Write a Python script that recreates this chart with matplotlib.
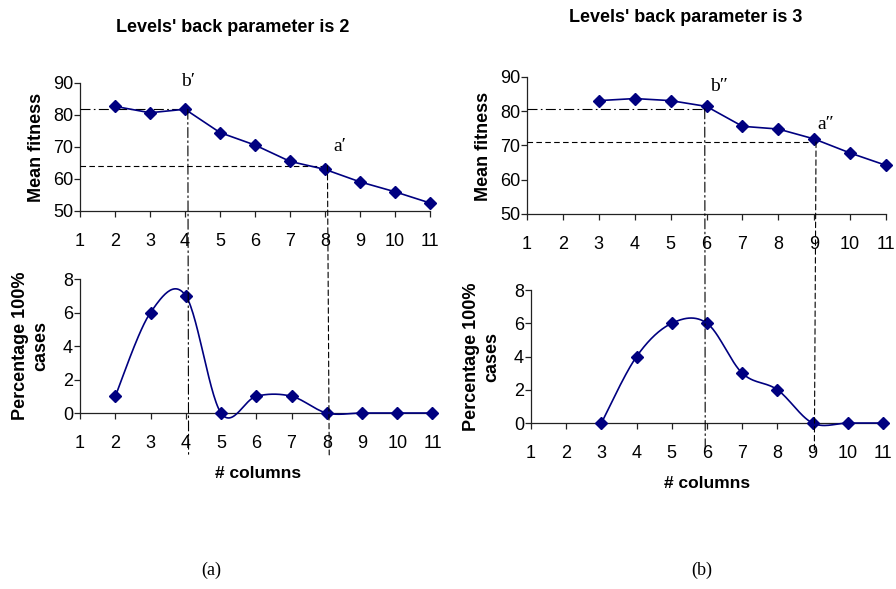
import numpy as np
import matplotlib
matplotlib.use('Agg')
import matplotlib.pyplot as plt
from matplotlib import font_manager
from matplotlib.patches import ConnectionPatch

# data
cols_a = [2, 3, 4, 5, 6, 7, 8, 9, 10, 11]
fit_a = [82.7, 80.7, 81.8, 74.5, 70.6, 65.5, 63.0, 59.1, 56.0, 52.5]
pct_a = [1, 6, 7, 0, 1, 1, 0, 0, 0, 0]

cols_b = [3, 4, 5, 6, 7, 8, 9, 10, 11]
fit_b = [83.1, 83.7, 83.1, 81.4, 75.6, 74.8, 71.9, 67.8, 64.2]
pct_b = [0, 4, 6, 6, 3, 2, 0, 0, 0]

xticks = list(range(1, 12))
# guide points (x, y) for the b and a markers
guide_b_a = (4.08, 81.8)
guide_a_a = (8.07, 64.2)
guide_b_b = (5.95, 80.7)
guide_a_b = (9.05, 71.0)

names = {f.name for f in font_manager.fontManager.ttflist}
narrow = 'Liberation Sans Narrow' if 'Liberation Sans Narrow' in names else 'Liberation Sans'
title_size = 15.5 if narrow == 'Liberation Sans Narrow' else 13
plt.rcParams['font.family'] = ['Liberation Sans', 'DejaVu Sans']

NAVY = '#000080'
DASHDOT = (0, (9, 3, 1.5, 3))
DASHED = (0, (5, 3))


def smooth(x, y, n=30):
    # excel-like smoothed line (catmull-rom bezier)
    x = np.asarray(x, float)
    y = np.asarray(y, float)
    px = np.concatenate([[x[0]], x, [x[-1]]])
    py = np.concatenate([[y[0]], y, [y[-1]]])
    xs, ys = [], []
    t = np.linspace(0, 1, n)
    for i in range(1, len(px) - 2):
        p0 = np.array([px[i], py[i]])
        p3 = np.array([px[i + 1], py[i + 1]])
        c1 = p0 + (np.array([px[i + 1], py[i + 1]]) - np.array([px[i - 1], py[i - 1]])) / 6
        c2 = p3 - (np.array([px[i + 2], py[i + 2]]) - np.array([px[i], py[i]])) / 6
        b = ((1 - t) ** 3)[:, None] * p0 + (3 * (1 - t) ** 2 * t)[:, None] * c1 \
            + (3 * (1 - t) * t ** 2)[:, None] * c2 + (t ** 3)[:, None] * p3
        xs.extend(b[:, 0])
        ys.extend(b[:, 1])
    return xs, ys


def style(ax, ylim, yticks):
    ax.set_xlim(1, 11)
    ax.set_ylim(*ylim)
    ax.set_xticks(xticks)
    ax.set_yticks(yticks)
    for s in ['top', 'right']:
        ax.spines[s].set_visible(False)
    for s in ['left', 'bottom']:
        ax.spines[s].set_linewidth(0.9)
        ax.spines[s].set_color('#222222')
    ax.tick_params(axis='both', direction='out', length=4, width=0.9,
                   color='#222222', labelsize=13)
    ax.tick_params(axis='x', pad=12)
    ax.tick_params(axis='y', pad=1)


fig = plt.figure(figsize=(8.96, 5.89), dpi=100)
ax1 = fig.add_axes([0.0893, 0.6418, 0.3906, 0.2173])
ax2 = fig.add_axes([0.0893, 0.2988, 0.3934, 0.2275])
ax3 = fig.add_axes([0.5882, 0.6367, 0.4007, 0.2326])
ax4 = fig.add_axes([0.5926, 0.2818, 0.3929, 0.2258])

for ax in (ax1, ax3):
    style(ax, (50, 90), [50, 60, 70, 80, 90])
    ax.set_ylabel('Mean fitness', fontsize=13, fontweight='bold')
for ax in (ax2, ax4):
    style(ax, (0, 8), [0, 2, 4, 6, 8])
    ax.set_ylabel('Percentage 100%\ncases', fontsize=13, fontweight='bold',
                  linespacing=1.25)
    ax.set_xlabel('# columns', fontsize=12.5, fontweight='bold')

ax1.yaxis.set_label_coords(-0.1, 0.5)
ax3.yaxis.set_label_coords(-0.097, 0.49)
ax2.yaxis.set_label_coords(-0.086, 0.5)
ax4.yaxis.set_label_coords(-0.088, 0.5)
ax2.xaxis.set_label_coords(0.506, -0.396)
ax4.xaxis.set_label_coords(0.5, -0.396)

# top panels: straight lines
ax1.plot(cols_a, fit_a, color=NAVY, lw=1.2, marker='D', ms=6.5, clip_on=False, zorder=5)
ax3.plot(cols_b, fit_b, color=NAVY, lw=1.2, marker='D', ms=6.5, clip_on=False, zorder=5)

# bottom panels: smoothed lines
sx, sy = smooth(cols_a, pct_a)
ax2.plot(sx, sy, color=NAVY, lw=1.2, clip_on=False, zorder=5)
ax2.plot(cols_a, pct_a, ls='none', color=NAVY, marker='D', ms=6.5, clip_on=False, zorder=6)
sx, sy = smooth(cols_b, pct_b)
ax4.plot(sx, sy, color=NAVY, lw=1.2, clip_on=False, zorder=5)
ax4.plot(cols_b, pct_b, ls='none', color=NAVY, marker='D', ms=6.5, clip_on=False, zorder=6)

# guide lines
for top, bot, (bx, by), (gx, gy), yend in [(ax1, ax2, guide_b_a, guide_a_a, -2.5),
                                           (ax3, ax4, guide_b_b, guide_a_b, -1.7)]:
    top.plot([1, bx], [by, by], color='k', lw=0.8, ls=DASHDOT, clip_on=False, zorder=3)
    top.plot([1, gx], [gy, gy], color='k', lw=0.8, ls=DASHED, clip_on=False, zorder=3)
    for (x0, y0), ls in [((bx, by), DASHDOT), ((gx, gy), DASHED)]:
        con = ConnectionPatch(xyA=(x0, y0), coordsA=top.transData,
                              xyB=(x0, yend), coordsB=bot.transData,
                              color='k', lw=0.8, linestyle=ls, zorder=3)
        fig.add_artist(con)

# point labels
serif = ['Liberation Serif', 'DejaVu Serif']
ax1.text(4.1, 90.5, 'b\u2032', family=serif, fontsize=14, ha='center', va='center')
ax1.text(8.43, 70, 'a\u2032', family=serif, fontsize=14, ha='center', va='center')
ax3.text(6.35, 87.2, 'b\u2033', family=serif, fontsize=14, ha='center', va='center')
ax3.text(9.33, 76, 'a\u2033', family=serif, fontsize=14, ha='center', va='center')

fig.text(233 / 896, 1 - 27 / 589, "Levels' back parameter is 2", family=[narrow, 'DejaVu Sans'],
         fontsize=title_size, fontweight='bold', ha='center', va='center')
fig.text(686 / 896, 1 - 17 / 589, "Levels' back parameter is 3", family=[narrow, 'DejaVu Sans'],
         fontsize=title_size, fontweight='bold', ha='center', va='center')
fig.text(211 / 896, 1 - 570 / 589, '(a)', family=serif, fontsize=13, ha='center', va='center')
fig.text(702 / 896, 1 - 570 / 589, '(b)', family=serif, fontsize=13, ha='center', va='center')

fig.savefig('out.png', dpi=100)
